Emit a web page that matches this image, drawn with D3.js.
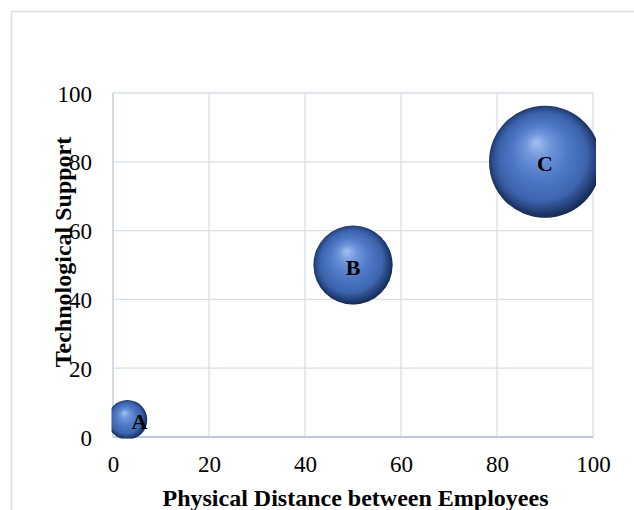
<!DOCTYPE html>
<html>
<head>
<meta charset="utf-8">
<script src="https://cdn.jsdelivr.net/npm/d3@7"></script>
<style>
  html, body { margin: 0; padding: 0; background: #fff; }
  svg { display: block; }
  text { font-family: "Liberation Serif", "Times New Roman", serif; fill: #000; }
</style>
</head>
<body>
<div id="chart"></div>
<script>
// Bubble data: position on both axes and bubble size
const labels = ["A", "B", "C"];
const distance = [3, 50, 90];
const support = [5, 50, 80];
const bubbleSize = [10, 40, 80];
const tickValues = [0, 20, 40, 60, 80, 100];

const W = 634, H = 510;
const plot = { left: 113, right: 593, top: 93, bottom: 437 };

const svg = d3.select("#chart").append("svg")
  .attr("width", W).attr("height", H);

// chart frame
svg.append("rect")
  .attr("x", 11.5).attr("y", 11.5)
  .attr("width", 640).attr("height", 520)
  .attr("fill", "#fff").attr("stroke", "#d9dde4").attr("stroke-width", 1.5);

const x = d3.scaleLinear().domain([0, 100]).range([plot.left, plot.right]);
const y = d3.scaleLinear().domain([0, 100]).range([plot.bottom, plot.top]);
const r = d3.scaleSqrt().domain([0, d3.max(bubbleSize)]).range([0, 56]);

const defs = svg.append("defs");
const grad = defs.append("radialGradient")
  .attr("id", "sphere")
  .attr("cx", "0.5").attr("cy", "0.5").attr("r", "0.5")
  .attr("fx", "0.42").attr("fy", "0.32");
[
  [0, "#a3c0f1"], [0.22, "#7096db"], [0.5, "#4e78c5"],
  [0.78, "#3d65ae"], [0.92, "#2c4d8c"], [1, "#1d3564"]
].forEach(([o, c]) => grad.append("stop").attr("offset", o).attr("stop-color", c));

const rim = defs.append("radialGradient")
  .attr("id", "rim").attr("cx", "0.44").attr("cy", "0.42").attr("r", "0.6");
[
  [0, "rgba(10,25,60,0)"], [0.72, "rgba(10,25,60,0)"], [1, "rgba(10,25,60,0.45)"]
].forEach(([o, c]) => rim.append("stop").attr("offset", o).attr("stop-color", c));

defs.append("clipPath").attr("id", "plotClip")
  .append("rect")
  .attr("x", plot.left - 1.5).attr("y", plot.top - 3)
  .attr("width", plot.right - plot.left + 4.5)
  .attr("height", plot.bottom - plot.top + 4.5);

// gridlines
const grid = svg.append("g");
grid.selectAll(".vg").data(tickValues.slice(1)).join("line")
  .attr("x1", d => x(d)).attr("x2", d => x(d))
  .attr("y1", plot.top).attr("y2", plot.bottom)
  .attr("stroke", "#d9dee7").attr("stroke-width", 1.3);
grid.selectAll(".hg").data(tickValues.slice(1)).join("line")
  .attr("x1", plot.left).attr("x2", plot.right)
  .attr("y1", d => y(d)).attr("y2", d => y(d))
  .attr("stroke", "#d9dee7").attr("stroke-width", 1.3);

// axis lines
svg.append("line")
  .attr("x1", plot.left).attr("x2", plot.left)
  .attr("y1", plot.top).attr("y2", plot.bottom)
  .attr("stroke", "#bcc7da").attr("stroke-width", 1.3);
svg.append("line")
  .attr("x1", plot.left).attr("x2", plot.right)
  .attr("y1", plot.bottom).attr("y2", plot.bottom)
  .attr("stroke", "#bcc7da").attr("stroke-width", 1.8);

// tick labels via d3 axes
const xAxis = svg.append("g")
  .attr("transform", `translate(0,${plot.bottom})`)
  .call(d3.axisBottom(x).tickValues(tickValues).tickSize(0).tickPadding(19));
const yAxis = svg.append("g")
  .attr("transform", `translate(${plot.left},0)`)
  .call(d3.axisLeft(y).tickValues(tickValues).tickSize(0).tickPadding(21));
[xAxis, yAxis].forEach(g => {
  g.select(".domain").remove();
  g.selectAll("text")
    .attr("font-family", "Liberation Serif, Times New Roman, serif")
    .attr("font-size", 23).attr("fill", "#000");
});
yAxis.selectAll("text").attr("dy", "0.35em");

// bubbles
const data = labels.map((l, i) => ({
  label: l, dist: distance[i], sup: support[i], size: bubbleSize[i]
}));
const bubbles = svg.append("g").attr("clip-path", "url(#plotClip)");
bubbles.selectAll("circle.b").data(data).join("circle")
  .attr("cx", d => x(d.dist)).attr("cy", d => y(d.sup))
  .attr("r", d => r(d.size)).attr("fill", "url(#sphere)");
bubbles.selectAll("circle.rm").data(data).join("circle")
  .attr("cx", d => x(d.dist)).attr("cy", d => y(d.sup))
  .attr("r", d => r(d.size)).attr("fill", "url(#rim)");

// data labels (the smallest bubble's label sits to its right)
svg.append("g").selectAll("text").data(data).join("text")
  .attr("x", d => x(d.dist) + (d.size < 20 ? 12 : 0))
  .attr("y", d => y(d.sup) + 2)
  .attr("text-anchor", "middle").attr("dominant-baseline", "central")
  .attr("font-weight", "bold").attr("font-size", 22)
  .text(d => d.label);

// axis titles
svg.append("text")
  .attr("x", 355.5).attr("y", 506)
  .attr("text-anchor", "middle")
  .attr("font-weight", "bold").attr("font-size", 24)
  .text("Physical Distance between Employees");
svg.append("text")
  .attr("transform", "translate(71,252) rotate(-90)")
  .attr("text-anchor", "middle")
  .attr("font-weight", "bold").attr("font-size", 24)
  .text("Technological Support");
</script>
</body>
</html>
